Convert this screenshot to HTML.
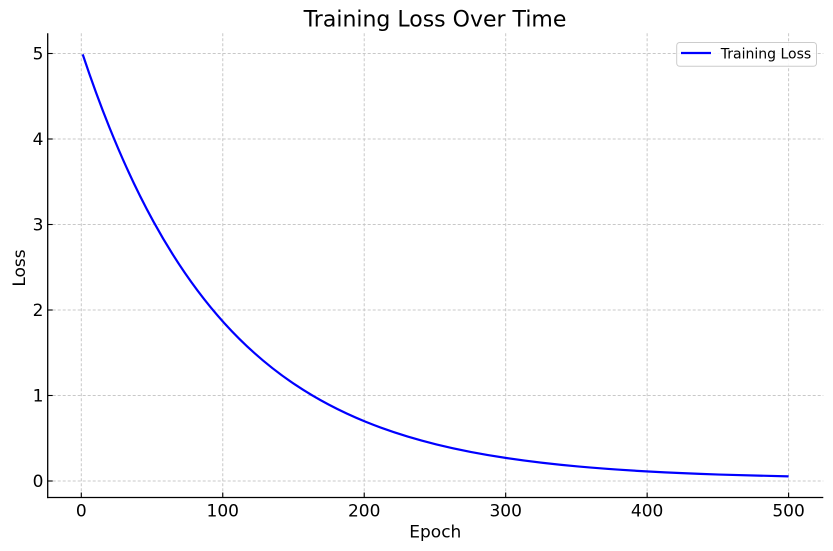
<!DOCTYPE html>
<html>
<head>
<meta charset="utf-8">
<style>
html,body{margin:0;padding:0;background:#fff;}
svg{display:block;}
text{font-family:"DejaVu Sans","Liberation Sans",sans-serif;fill:#000;}
</style>
</head>
<body>
<svg width="833" height="551" viewBox="0 0 833 551" xmlns="http://www.w3.org/2000/svg">
<rect x="0" y="0" width="833" height="551" fill="#fff"/>
<!-- grid -->
<g stroke="#c8c8c8" stroke-width="1" stroke-dasharray="3,2" fill="none">
<line x1="81.3" y1="33.2" x2="81.3" y2="497.5"/>
<line x1="222.76" y1="33.2" x2="222.76" y2="497.5"/>
<line x1="364.22" y1="33.2" x2="364.22" y2="497.5"/>
<line x1="505.68" y1="33.2" x2="505.68" y2="497.5"/>
<line x1="647.14" y1="33.2" x2="647.14" y2="497.5"/>
<line x1="788.6" y1="33.2" x2="788.6" y2="497.5"/>
<line x1="47.7" y1="481" x2="823.3" y2="481"/>
<line x1="47.7" y1="395.5" x2="823.3" y2="395.5"/>
<line x1="47.7" y1="310" x2="823.3" y2="310"/>
<line x1="47.7" y1="224.5" x2="823.3" y2="224.5"/>
<line x1="47.7" y1="139" x2="823.3" y2="139"/>
<line x1="47.7" y1="53.5" x2="823.3" y2="53.5"/>
</g>
<!-- curve -->
<path d="M82.71,54.35 C106.29,125.17 129.86,178.60 153.44,221.55 C177.02,264.50 200.59,296.91 224.17,322.96 C247.75,349.01 271.32,368.67 294.90,384.47 C318.48,400.27 342.05,412.20 365.63,421.78 C389.21,431.36 412.78,438.60 436.36,444.41 C459.94,450.22 483.51,454.60 507.09,458.13 C530.67,461.66 554.24,464.32 577.82,466.46 C601.40,468.60 624.98,470.21 648.56,471.51 C672.14,472.81 695.71,473.78 719.29,474.57 C742.40,475.34 765.50,475.93 788.60,476.40" fill="none" stroke="#0000ff" stroke-width="2.2" stroke-linejoin="round" stroke-linecap="butt"/>
<!-- spines -->
<g stroke="#000" stroke-width="1.3" fill="none">
<line x1="47.7" y1="33.2" x2="47.7" y2="498.1"/>
<line x1="47.1" y1="497.5" x2="823.3" y2="497.5"/>
</g>
<!-- ticks (inward) -->
<g stroke="#000" stroke-width="1.1">
<line x1="81.3" y1="497.5" x2="81.3" y2="492.5"/>
<line x1="222.76" y1="497.5" x2="222.76" y2="492.5"/>
<line x1="364.22" y1="497.5" x2="364.22" y2="492.5"/>
<line x1="505.68" y1="497.5" x2="505.68" y2="492.5"/>
<line x1="647.14" y1="497.5" x2="647.14" y2="492.5"/>
<line x1="788.6" y1="497.5" x2="788.6" y2="492.5"/>
<line x1="47.7" y1="481" x2="52.7" y2="481"/>
<line x1="47.7" y1="395.5" x2="52.7" y2="395.5"/>
<line x1="47.7" y1="310" x2="52.7" y2="310"/>
<line x1="47.7" y1="224.5" x2="52.7" y2="224.5"/>
<line x1="47.7" y1="139" x2="52.7" y2="139"/>
<line x1="47.7" y1="53.5" x2="52.7" y2="53.5"/>
</g>
<!-- tick labels -->
<g font-size="17" text-anchor="middle">
<text x="81.3" y="516.5">0</text>
<text x="222.76" y="516.5">100</text>
<text x="364.22" y="516.5">200</text>
<text x="505.68" y="516.5">300</text>
<text x="647.14" y="516.5">400</text>
<text x="788.6" y="516.5">500</text>
</g>
<g font-size="17" text-anchor="end">
<text x="43.5" y="487.2">0</text>
<text x="43.5" y="401.7">1</text>
<text x="43.5" y="316.2">2</text>
<text x="43.5" y="230.7">3</text>
<text x="43.5" y="145.2">4</text>
<text x="43.5" y="59.7">5</text>
</g>
<!-- axis labels -->
<text x="435.3" y="537.5" font-size="17" text-anchor="middle">Epoch</text>
<text transform="translate(24.8,268) rotate(-90)" font-size="17" text-anchor="middle">Loss</text>
<!-- title -->
<text x="435" y="26.7" font-size="22" text-anchor="middle">Training Loss Over Time</text>
<!-- legend -->
<rect x="676.7" y="42.5" width="139.8" height="23.8" rx="3" ry="3" fill="#fff" fill-opacity="0.85" stroke="#cccccc" stroke-width="1"/>
<line x1="681" y1="53" x2="711" y2="53" stroke="#0000ff" stroke-width="2.2"/>
<text x="720.8" y="58.7" font-size="14">Training Loss</text>
</svg>
</body>
</html>
